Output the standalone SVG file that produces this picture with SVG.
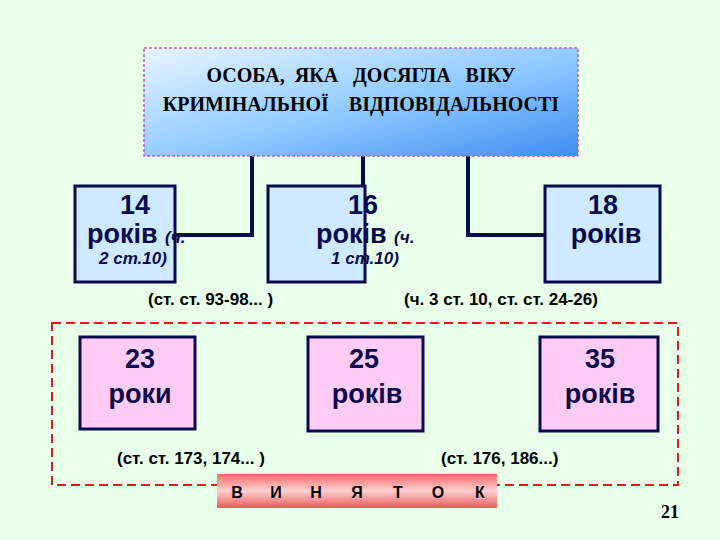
<svg xmlns="http://www.w3.org/2000/svg" width="720" height="540" viewBox="0 0 720 540">
<style>
.b{fill:#cfe9ff;stroke:#0a0a50;stroke-width:3}
.p{fill:#ffccf5;stroke:#0a0a50;stroke-width:3}
.t{font-family:"Liberation Sans",Arial,sans-serif;font-weight:bold;fill:#0a0a50}
.m{text-anchor:middle}
.c{font-family:"Liberation Sans",Arial,sans-serif;font-weight:bold;fill:#000;font-size:17px}
.i{font-style:italic;font-size:17px}
</style>
<defs>
<linearGradient id="g" x1="0" y1="0" x2="1" y2="1"><stop offset="0" stop-color="#e8f6ff"/><stop offset="0.55" stop-color="#8cc8ff"/><stop offset="1" stop-color="#3f8df0"/></linearGradient>
<linearGradient id="r" x1="0" y1="0" x2="0" y2="1"><stop offset="0" stop-color="#f06a6a"/><stop offset="0.5" stop-color="#ffd0d0"/><stop offset="1" stop-color="#e85a5a"/></linearGradient>
</defs>
<rect width="720" height="540" fill="#eaffea"/>
<g id="connectors" fill="none" stroke="#0a0a50" stroke-width="4">
<polyline points="252,156 252,235 175,235"/>
<line x1="363" y1="156" x2="363" y2="186"/>
<polyline points="468,156 468,235 545,235"/>
</g>
<g id="top"><rect x="144" y="48" width="434" height="108" fill="url(#g)" stroke="#c060b0" stroke-width="1.5" stroke-dasharray="3,2"/>
<text x="361" y="82" text-anchor="middle" font-family="Liberation Serif,serif" font-weight="bold" font-size="20" xml:space="preserve">ОСОБА,  ЯКА   ДОСЯГЛА   ВІКУ</text>
<text x="361" y="111" text-anchor="middle" font-family="Liberation Serif,serif" font-weight="bold" font-size="20" xml:space="preserve">КРИМІНАЛЬНОЇ    ВІДПОВІДАЛЬНОСТІ</text></g>
<g id="n14"><rect class="b" x="75" y="186" width="100" height="96"/>
<text class="t m" x="135" y="214" font-size="27">14</text>
<text class="t" x="87" y="243" font-size="27">років <tspan class="i">(ч.</tspan></text>
<text class="t i m" x="133" y="264">2 ст.10)</text></g>
<g id="n16"><rect class="b" x="268" y="186" width="97" height="96"/>
<text class="t m" x="363" y="214" font-size="27">16</text>
<text class="t" x="316" y="243" font-size="27">років <tspan class="i">(ч.</tspan></text>
<text class="t i m" x="365" y="264">1 ст.10)</text></g>
<g id="n18"><rect class="b" x="545" y="186" width="115" height="96"/>
<text class="t m" x="603" y="214" font-size="27">18</text>
<text class="t m" x="606" y="243" font-size="27">років</text></g>
<text class="c" x="148" y="305">(ст. ст. 93-98... )</text>
<text class="c" x="404" y="305">(ч. 3 ст. 10, ст. ст. 24-26)</text>
<rect x="52" y="323" width="626" height="162" fill="none" stroke="#d02020" stroke-width="2" stroke-dasharray="9,5"/>
<g id="n23"><rect class="p" x="80" y="337" width="115" height="92"/>
<text class="t m" x="140" y="368" font-size="27">23</text>
<text class="t m" x="140" y="403" font-size="27">роки</text></g>
<g id="n25"><rect class="p" x="308" y="337" width="115" height="94"/>
<text class="t m" x="364" y="368" font-size="27">25</text>
<text class="t m" x="367" y="403" font-size="27">років</text></g>
<g id="n35"><rect class="p" x="540" y="337" width="118" height="94"/>
<text class="t m" x="600" y="368" font-size="27">35</text>
<text class="t m" x="600" y="403" font-size="27">років</text></g>
<text class="c" x="117" y="464">(ст. ст. 173, 174... )</text>
<text class="c" x="441" y="464">(ст. 176, 186...)</text>
<g id="exc"><rect x="217" y="474" width="280" height="34" fill="url(#r)"/>
<text x="237 276 316 357 398 438 480" y="498" text-anchor="middle" font-family="Liberation Sans,Arial,sans-serif" font-weight="bold" font-size="16">ВИНЯТОК</text></g>
<text x="670" y="518" text-anchor="middle" font-family="Liberation Serif,serif" font-weight="bold" font-size="18">21</text>
</svg>
